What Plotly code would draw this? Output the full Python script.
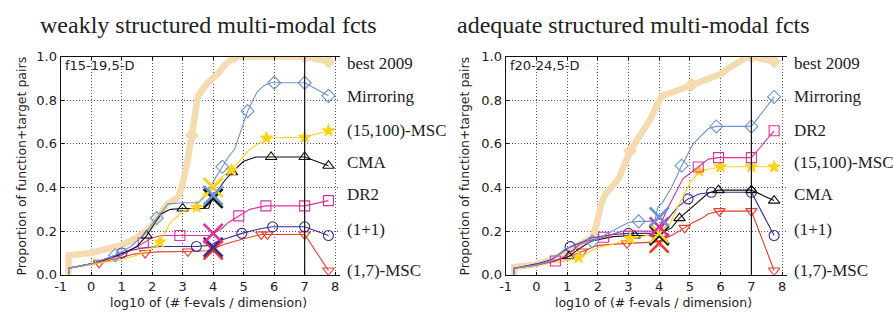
import plotly.graph_objects as go

# ---------------- data: left panel (f15-19, 5-D) ----------------
L_best_x = [-0.74, -0.74, 0.0, 1.0, 1.5, 2.0, 2.5, 2.85, 3.0, 3.13, 3.3, 3.5, 3.82, 4.15, 4.37, 4.7, 7.0, 7.78]
L_best_y = [0.0, 0.089, 0.10, 0.136, 0.17, 0.225, 0.325, 0.355, 0.42, 0.50, 0.64, 0.82, 0.88, 0.92, 0.96, 1.0, 1.0, 0.977]
L_best_mx = [3.3, 4.7, 7.0, 7.78]
L_best_my = [0.64, 1.0, 1.0, 0.977]

L_mir_x = [-0.74, -0.74, 0.0, 0.79, 1.3, 1.77, 2.15, 2.52, 3.0, 3.5, 3.75, 3.93, 4.1, 4.3, 4.5, 4.7, 4.9, 5.13, 5.3, 5.45, 5.7, 5.9, 7.0, 7.78]
L_mir_y = [0.0, 0.03, 0.05, 0.09, 0.13, 0.19, 0.26, 0.325, 0.33, 0.33, 0.36, 0.41, 0.45, 0.495, 0.54, 0.575, 0.66, 0.75, 0.80, 0.84, 0.87, 0.88, 0.88, 0.82]
L_mir_mx = [0.79, 2.15, 4.3, 5.13, 6.0, 7.0, 7.78]
L_mir_my = [0.09, 0.26, 0.495, 0.75, 0.88, 0.88, 0.82]

L_msc15_x = [-0.74, -0.74, 0.0, 1.0, 1.5, 1.9, 2.25, 2.6, 3.0, 3.46, 3.7, 4.07, 4.3, 4.6, 5.2, 5.75, 7.0, 7.78]
L_msc15_y = [0.0, 0.03, 0.048, 0.07, 0.09, 0.115, 0.15, 0.24, 0.29, 0.31, 0.37, 0.42, 0.45, 0.48, 0.575, 0.627, 0.63, 0.66]
L_msc15_mx = [2.25, 3.46, 4.6, 5.75, 7.0, 7.78]
L_msc15_my = [0.15, 0.31, 0.48, 0.627, 0.63, 0.66]

L_cma_x = [-0.74, -0.74, 0.0, 1.0, 1.5, 1.82, 2.1, 2.3, 2.6, 3.0, 3.5, 3.85, 4.0, 4.2, 4.37, 4.62, 5.0, 5.4, 5.9, 7.0, 7.78]
L_cma_y = [0.0, 0.03, 0.05, 0.095, 0.13, 0.18, 0.24, 0.28, 0.30, 0.304, 0.304, 0.305, 0.36, 0.40, 0.43, 0.47, 0.52, 0.54, 0.54, 0.54, 0.50]
L_cma_mx = [1.82, 3.0, 4.62, 5.9, 7.0, 7.78]
L_cma_my = [0.18, 0.304, 0.47, 0.54, 0.54, 0.50]

L_dr2_x = [-0.74, -0.74, 0.0, 1.0, 1.4, 1.71, 2.0, 2.3, 2.91, 3.9, 4.0, 4.27, 4.5, 4.84, 5.2, 5.73, 7.0, 7.78]
L_dr2_y = [0.0, 0.03, 0.05, 0.09, 0.12, 0.146, 0.17, 0.18, 0.18, 0.18, 0.19, 0.21, 0.24, 0.27, 0.30, 0.316, 0.316, 0.34]
L_dr2_mx = [1.71, 2.91, 4.84, 5.73, 7.0, 7.78]
L_dr2_my = [0.146, 0.18, 0.27, 0.316, 0.316, 0.34]

L_oneone_x = [-0.74, -0.74, 0.0, 1.01, 1.4, 1.8, 2.3, 3.0, 3.45, 3.9, 4.1, 4.4, 4.94, 5.5, 5.95, 7.0, 7.78]
L_oneone_y = [0.0, 0.03, 0.05, 0.10, 0.115, 0.125, 0.13, 0.13, 0.13, 0.135, 0.15, 0.165, 0.19, 0.21, 0.22, 0.22, 0.18]
L_oneone_mx = [1.01, 3.45, 4.94, 5.95, 7.0, 7.78]
L_oneone_my = [0.10, 0.13, 0.19, 0.22, 0.22, 0.18]

L_msc17_x = [-0.74, -0.74, 0.0, 0.26, 1.0, 1.4, 1.77, 2.2, 3.17, 3.8, 4.1, 4.37, 5.0, 5.4, 5.58, 7.0, 7.78]
L_msc17_y = [0.0, 0.03, 0.048, 0.055, 0.08, 0.095, 0.10, 0.105, 0.107, 0.11, 0.125, 0.14, 0.165, 0.18, 0.185, 0.185, 0.02]
L_msc17_mx = [0.26, 1.77, 3.17, 5.58, 5.78, 7.0, 7.78]
L_msc17_my = [0.055, 0.10, 0.107, 0.185, 0.185, 0.185, 0.02]

# big crosses at x = 4 (left)
L_cross_y = {"Mirroring": 0.364, "(15,100)-MSC": 0.40, "CMA": 0.35,
             "DR2": 0.19, "(1+1)": 0.127, "(1,7)-MSC": 0.114}

# ---------------- data: right panel (f20-24, 5-D) ----------------
R_best_x = [-0.72, -0.72, 0.0, 0.52, 1.0, 1.47, 1.82, 1.95, 2.1, 2.25, 2.68, 3.05, 3.3, 3.43, 3.7, 3.9, 4.08, 4.5, 5.05, 5.6, 6.0, 6.35, 6.77, 7.0, 7.74]
R_best_y = [0.0, 0.035, 0.048, 0.07, 0.107, 0.14, 0.17, 0.225, 0.32, 0.37, 0.44, 0.567, 0.62, 0.66, 0.71, 0.77, 0.82, 0.84, 0.87, 0.895, 0.92, 0.955, 0.99, 1.0, 0.977]
R_best_mx = [3.05, 5.05, 7.0, 7.74]
R_best_my = [0.567, 0.87, 1.0, 0.977]

R_mir_x = [-0.72, -0.72, 0.0, 0.5, 0.94, 1.4, 1.82, 2.34, 3.0, 3.33, 3.86, 3.95, 4.1, 4.4, 4.73, 5.1, 5.6, 5.86, 7.0, 7.74]
R_mir_y = [0.0, 0.03, 0.045, 0.065, 0.12, 0.14, 0.153, 0.19, 0.24, 0.245, 0.245, 0.31, 0.33, 0.40, 0.50, 0.60, 0.67, 0.68, 0.68, 0.815]
R_mir_mx = [1.82, 3.33, 4.73, 5.86, 7.0, 7.74]
R_mir_my = [0.153, 0.245, 0.50, 0.68, 0.68, 0.815]

R_dr2_x = [-0.72, -0.72, 0.0, 0.62, 1.0, 1.5, 2.19, 2.8, 3.86, 4.0, 4.33, 4.77, 5.27, 5.6, 5.93, 7.0, 7.74]
R_dr2_y = [0.0, 0.03, 0.045, 0.063, 0.09, 0.15, 0.172, 0.20, 0.20, 0.22, 0.32, 0.44, 0.494, 0.53, 0.537, 0.537, 0.66]
R_dr2_mx = [0.62, 2.19, 5.27, 5.93, 7.0, 7.74]
R_dr2_my = [0.063, 0.172, 0.494, 0.537, 0.537, 0.66]

R_msc15_x = [-0.72, -0.72, 0.0, 0.5, 1.0, 1.38, 2.0, 2.5, 3.05, 3.6, 3.86, 4.0, 4.3, 4.6, 5.0, 5.3, 5.99, 7.0, 7.74]
R_msc15_y = [0.0, 0.03, 0.045, 0.055, 0.065, 0.079, 0.125, 0.14, 0.166, 0.18, 0.185, 0.19, 0.22, 0.31, 0.42, 0.475, 0.495, 0.495, 0.495]
R_msc15_mx = [1.38, 3.05, 5.3, 5.99, 7.0, 7.74]
R_msc15_my = [0.079, 0.166, 0.475, 0.495, 0.495, 0.495]

R_cma_x = [-0.72, -0.72, 0.0, 0.5, 1.06, 1.4, 1.8, 2.5, 3.2, 3.86, 4.0, 4.4, 4.66, 5.0, 5.25, 5.6, 5.93, 7.0, 7.74]
R_cma_y = [0.0, 0.03, 0.045, 0.06, 0.085, 0.12, 0.155, 0.175, 0.18, 0.18, 0.185, 0.215, 0.26, 0.30, 0.33, 0.375, 0.388, 0.388, 0.34]
R_cma_mx = [1.06, 3.2, 4.66, 5.93, 7.0, 7.74]
R_cma_my = [0.085, 0.18, 0.26, 0.388, 0.388, 0.34]

R_oneone_x = [-0.72, -0.72, 0.0, 0.5, 1.1, 1.5, 1.8, 2.5, 3.0, 3.86, 4.0, 4.3, 4.6, 4.94, 5.3, 5.7, 7.0, 7.74]
R_oneone_y = [0.0, 0.03, 0.05, 0.07, 0.129, 0.15, 0.17, 0.185, 0.19, 0.19, 0.20, 0.26, 0.31, 0.348, 0.37, 0.378, 0.378, 0.18]
R_oneone_mx = [1.1, 3.0, 4.94, 5.7, 7.0, 7.74]
R_oneone_my = [0.129, 0.19, 0.348, 0.378, 0.378, 0.18]

R_msc17_x = [-0.72, -0.72, 0.0, 0.5, 1.0, 1.49, 2.0, 2.95, 3.86, 4.0, 4.4, 4.83, 5.1, 5.4, 5.6, 5.96, 7.0, 7.74]
R_msc17_y = [0.0, 0.03, 0.045, 0.06, 0.08, 0.107, 0.135, 0.144, 0.15, 0.155, 0.18, 0.215, 0.24, 0.26, 0.28, 0.292, 0.292, 0.02]
R_msc17_mx = [1.49, 2.95, 4.83, 5.96, 7.0, 7.74]
R_msc17_my = [0.107, 0.144, 0.215, 0.292, 0.292, 0.02]

R_cross_y = {"Mirroring": 0.265, "DR2": 0.22, "(15,100)-MSC": 0.19,
             "CMA": 0.18, "(1+1)": 0.185, "(1,7)-MSC": 0.145}

cross_x = 4.0
x_ticks = [-1, 0, 1, 2, 3, 4, 5, 6, 7, 8]
y_ticks = [0.0, 0.2, 0.4, 0.6, 0.8, 1.0]

titles = ["weakly structured multi-modal fcts", "adequate structured multi-modal fcts"]
panel_tags = ["f15-19,5-D", "f20-24,5-D"]
L_label_order = ["best 2009", "Mirroring", "(15,100)-MSC", "CMA", "DR2", "(1+1)", "(1,7)-MSC"]
R_label_order = ["best 2009", "Mirroring", "DR2", "(15,100)-MSC", "CMA", "(1+1)", "(1,7)-MSC"]
label_y = [0.969, 0.816, 0.662, 0.513, 0.368, 0.206, 0.018]

# ---------------- styles ----------------
style = {
    "Mirroring": dict(color="#6a93d8", symbol="diamond-open", size=10),
    "(15,100)-MSC": dict(color="#ffd21a", symbol="star", size=9),
    "CMA": dict(color="#111111", symbol="triangle-up-open", size=10),
    "DR2": dict(color="#e0309e", symbol="square-open", size=10),
    "(1+1)": dict(color="#3a2a9a", symbol="circle-open", size=10),
    "(1,7)-MSC": dict(color="#ee3a2a", symbol="triangle-down-open", size=10),
}
best_color = "#f4dbb0"

L_series = {
    "Mirroring": (L_mir_x, L_mir_y, L_mir_mx, L_mir_my),
    "(15,100)-MSC": (L_msc15_x, L_msc15_y, L_msc15_mx, L_msc15_my),
    "CMA": (L_cma_x, L_cma_y, L_cma_mx, L_cma_my),
    "DR2": (L_dr2_x, L_dr2_y, L_dr2_mx, L_dr2_my),
    "(1+1)": (L_oneone_x, L_oneone_y, L_oneone_mx, L_oneone_my),
    "(1,7)-MSC": (L_msc17_x, L_msc17_y, L_msc17_mx, L_msc17_my),
}
R_series = {
    "Mirroring": (R_mir_x, R_mir_y, R_mir_mx, R_mir_my),
    "DR2": (R_dr2_x, R_dr2_y, R_dr2_mx, R_dr2_my),
    "(15,100)-MSC": (R_msc15_x, R_msc15_y, R_msc15_mx, R_msc15_my),
    "CMA": (R_cma_x, R_cma_y, R_cma_mx, R_cma_my),
    "(1+1)": (R_oneone_x, R_oneone_y, R_oneone_mx, R_oneone_my),
    "(1,7)-MSC": (R_msc17_x, R_msc17_y, R_msc17_mx, R_msc17_my),
}

W, H = 893, 320
fig = go.Figure()

panels = [
    dict(xa="x", ya="y", best=(L_best_x, L_best_y, L_best_mx, L_best_my), series=L_series,
         cross=L_cross_y, order=L_label_order),
    dict(xa="x2", ya="y2", best=(R_best_x, R_best_y, R_best_mx, R_best_my), series=R_series,
         cross=R_cross_y, order=R_label_order),
]

for p in panels:
    bx, by, bmx, bmy = p["best"]
    fig.add_trace(go.Scatter(x=bx, y=by, mode="lines", line=dict(color=best_color, width=6.5),
                             xaxis=p["xa"], yaxis=p["ya"], showlegend=False, hoverinfo="skip"))
    fig.add_trace(go.Scatter(x=bmx, y=bmy, mode="markers",
                             marker=dict(symbol="diamond", size=11, color=best_color),
                             xaxis=p["xa"], yaxis=p["ya"], showlegend=False, hoverinfo="skip"))
    for name in reversed(list(p["series"].keys())):
        sx, sy, mx, my = p["series"][name]
        st = style[name]
        fig.add_trace(go.Scatter(x=sx, y=sy, mode="lines", line=dict(color=st["color"], width=1.1),
                                 xaxis=p["xa"], yaxis=p["ya"], showlegend=False, hoverinfo="skip"))
        mk = dict(symbol=st["symbol"], size=st["size"], color=st["color"],
                  line=dict(color=st["color"], width=1.1))
        fig.add_trace(go.Scatter(x=mx, y=my, mode="markers", marker=mk,
                                 xaxis=p["xa"], yaxis=p["ya"], showlegend=False, hoverinfo="skip"))
    for name in reversed(list(p["series"].keys())):
        st = style[name]
        fig.add_trace(go.Scatter(x=[cross_x], y=[p["cross"][name]], mode="markers",
                                 marker=dict(symbol="x-thin", size=19, color=st["color"],
                                             line=dict(color=st["color"], width=2.6)),
                                 xaxis=p["xa"], yaxis=p["ya"], showlegend=False, hoverinfo="skip"))

# domains in pixels
x_dom_px = [(55, 336), (503, 786)]
y_top_px, y_bot_px = 52, 281
ydom = [1 - y_bot_px / H, 1 - y_top_px / H]

axis_font = dict(family="DejaVu Sans", size=13, color="#222")
grid = dict(showgrid=True, gridcolor="#555", griddash="1px,2px", gridwidth=1)
common_x = dict(range=[-1, 8.15], tickvals=x_ticks, ticktext=[str(t) for t in x_ticks],
                showline=True, linecolor="#111", linewidth=1, mirror="ticks",
                ticks="inside", ticklen=3, tickcolor="#111", tickfont=axis_font, zeroline=False, **grid)
common_y = dict(range=[0, 1.0], tickvals=y_ticks, tickformat=".1f",
                showline=True, linecolor="#111", linewidth=1, mirror=False,
                ticks="inside", ticklen=3, tickcolor="#111", tickfont=axis_font, zeroline=False, **grid)

fig.update_layout(
    width=W, height=H, margin=dict(l=0, r=0, t=0, b=0),
    paper_bgcolor="white", plot_bgcolor="white", showlegend=False,
    xaxis=dict(domain=[x_dom_px[0][0] / W, x_dom_px[0][1] / W], anchor="y", **common_x),
    yaxis=dict(domain=ydom, anchor="x", **common_y),
    xaxis2=dict(domain=[x_dom_px[1][0] / W, x_dom_px[1][1] / W], anchor="y2", **common_x),
    yaxis2=dict(domain=ydom, anchor="x2", **common_y),
)

# vertical line at x = 7
for xa in ["x", "x2"]:
    fig.add_shape(type="line", xref=xa, yref=("y domain" if xa == "x" else "y2 domain"),
                  x0=7, x1=7, y0=0, y1=1, line=dict(color="#111", width=1.2))

ann = []
serif = "Liberation Serif"
title_left_px = [32, 452]
ylab_x_px = [16, 462]
xlab_center_px = [204, 652]
for i in range(2):
    ann.append(dict(text=titles[i], x=title_left_px[i] / W, y=1 - 19 / H, xref="paper", yref="paper",
                    xanchor="left", yanchor="middle", showarrow=False,
                    font=dict(family=serif, size=24, color="#222")))
    ann.append(dict(text=panel_tags[i], x=(x_dom_px[i][0] + 2) / W, y=1 - 61 / H, xref="paper", yref="paper",
                    xanchor="left", yanchor="middle", showarrow=False,
                    font=dict(family="DejaVu Sans", size=13, color="#222")))
    ann.append(dict(text="Proportion of function+target pairs", x=ylab_x_px[i] / W,
                    y=1 - ((y_top_px + y_bot_px) / 2) / H, xref="paper", yref="paper",
                    xanchor="center", yanchor="middle", textangle=-90, showarrow=False,
                    font=dict(family="DejaVu Sans", size=12.5, color="#222")))
    ann.append(dict(text="log10 of (# f-evals / dimension)", x=xlab_center_px[i] / W, y=1 - 310 / H,
                    xref="paper", yref="paper", xanchor="center", yanchor="middle", showarrow=False,
                    font=dict(family="DejaVu Sans", size=12.5, color="#222")))
    order = panels[i]["order"]
    for k, lab in enumerate(order):
        ann.append(dict(text=lab, x=(x_dom_px[i][1] + 5) / W, y=label_y[k],
                        xref="paper", yref=("y" if i == 0 else "y2"),
                        xanchor="left", yanchor="middle", showarrow=False,
                        font=dict(family=serif, size=17, color="#222")))
fig.update_layout(annotations=ann)

fig.write_html("out.html")
